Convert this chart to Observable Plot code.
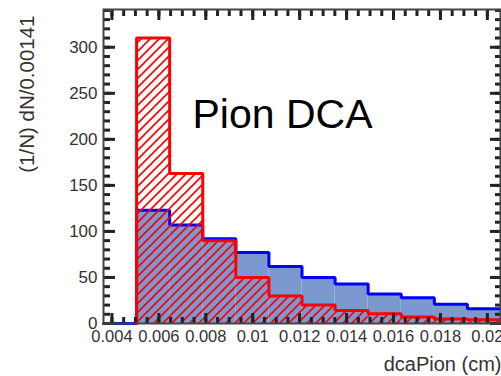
<!DOCTYPE html>
<html>
<head>
<meta charset="utf-8">
<script src="https://cdn.jsdelivr.net/npm/d3@7"></script>
<script src="https://cdn.jsdelivr.net/npm/@observablehq/plot@0.6"></script>
<style>
  html, body { margin: 0; padding: 0; background: #fff; }
  #chart svg { display: block; }
</style>
</head>
<body>
<div id="chart"></div>
<script>
// Histogram binning of dcaPion (cm): 12 bins of width 0.00141
const binEdges = [0.00364, 0.00505, 0.00646, 0.00787, 0.00928, 0.01069, 0.0121,
                  0.01351, 0.01492, 0.01633, 0.01774, 0.01915, 0.02056];

// Normalised counts per bin, (1/N) dN/0.00141
const redCounts  = [0, 310, 163, 90, 50, 30, 20, 14, 10.5, 7, 5, 4];
const blueCounts = [0, 123, 107, 92, 77, 62, 50, 43, 32, 28, 21, 16];

// Axis ticks and labels
const xTicks = [0.004, 0.006, 0.008, 0.01, 0.012, 0.014, 0.016, 0.018, 0.02];
const xTickLabels = ["0.004", "0.006", "0.008", "0.01", "0.012", "0.014", "0.016", "0.018", "0.02"];
const xMinorTicks = d3.range(0.004, 0.0205, 0.0005);
const yTicks = [0, 50, 100, 150, 200, 250, 300];
const yTickLabels = ["0", "50", "100", "150", "200", "250", "300"];
const yMinorTicks = d3.range(0, 341, 10);

const xTitle = "dcaPion (cm)";
const yTitle = "(1/N) dN/0.00141";
const annotation = "Pion DCA";

// Per-bin table for the filled areas
const bins = redCounts.map((r, i) => ({x1: binEdges[i], x2: binEdges[i + 1], red: r, blue: blueCounts[i]}));

// Step outline of a histogram, starting at the first bin that is drawn
function outline(counts, start) {
  const pts = [{x: binEdges[start], y: 0}];
  for (let i = start; i < counts.length; i++) pts.push({x: binEdges[i], y: counts[i]});
  pts.push({x: binEdges[counts.length], y: counts[counts.length - 1]});
  return pts;
}

const xLabel = new Map(xTicks.map((t, i) => [t, xTickLabels[i]]));
const yLabel = new Map(yTicks.map((t, i) => [t, yTickLabels[i]]));
const axisColor = "#333";
const tickColor = "#222";

const xDomain = [binEdges[0], binEdges[binEdges.length - 1]];
const yDomain = [0, 341];

// inward-pointing ticks along one side of the frame (negative tickSize points into the plot)
function sideTicks(values, side, len) {
  return (side === "left" || side === "right" ? Plot.axisY : Plot.axisX)(values, {
    anchor: side, tickSize: -len, fill: "none", stroke: tickColor, strokeWidth: 3
  });
}

const svg = Plot.plot({
  width: 501,
  height: 376,
  marginLeft: 103,
  marginRight: 1,
  marginTop: 9,
  marginBottom: 53,
  style: {fontFamily: "'Liberation Sans', Arial, Helvetica, sans-serif", fontSize: "16px", background: "#fff", color: axisColor},
  x: {type: "linear", domain: xDomain, nice: false},
  y: {domain: yDomain, nice: false},
  marks: [
    // blue filled histogram
    Plot.rectY(bins, {x1: "x1", x2: "x2", y: "blue", fill: "#7b98cf", inset: 0}),
    Plot.line(outline(blueCounts, 0), {x: "x", y: "y", curve: "step-after", stroke: "#0000ff", strokeWidth: 3, strokeLinejoin: "miter"}),
    // red hatched histogram
    Plot.rectY(bins.filter(d => d.red > 0), {x1: "x1", x2: "x2", y: "red", fill: "url(#redHatch)", inset: 0}),
    Plot.line(outline(redCounts, 1), {x: "x", y: "y", curve: "step-after", stroke: "#ff0000", strokeWidth: 3, strokeLinejoin: "miter"}),

    // tick labels
    Plot.axisY(yTicks, {anchor: "left", tickSize: 0, tickPadding: 6, tickFormat: d => yLabel.get(d), fontSize: 17, fill: axisColor, label: null}),
    Plot.axisX(xTicks, {anchor: "bottom", tickSize: 0, tickPadding: 7, tickFormat: d => xLabel.get(d), fontSize: 16.5, fill: axisColor, label: null}),

    // inward ticks on all four sides
    sideTicks(yTicks, "left", 12),
    sideTicks(yMinorTicks, "left", 7),
    sideTicks(yTicks, "right", 11),
    sideTicks(yMinorTicks, "right", 6),
    sideTicks(xTicks, "bottom", 10),
    sideTicks(xMinorTicks, "bottom", 6),
    sideTicks(xTicks, "top", 10),
    sideTicks(xMinorTicks, "top", 6),

    Plot.frame({stroke: "#444", strokeWidth: 2}),

    // axis titles
    Plot.text([xTitle], {frameAnchor: "bottom-right", dx: 1, dy: 47, textAnchor: "end", lineAnchor: "bottom", fontSize: 20, fill: axisColor}),
    Plot.text([yTitle], {frameAnchor: "top-left", dx: -76, dy: 6, rotate: -90, textAnchor: "end", lineAnchor: "middle", fontSize: 20.5, fill: axisColor}),

    // annotation
    Plot.text([annotation], {frameAnchor: "top-left", dx: 89, dy: 118, textAnchor: "start", lineAnchor: "bottom", fontSize: 41, fill: "#000"})
  ]
});

// diagonal hatch used by the red histogram
const defs = d3.select(svg).insert("defs", ":first-child");
const pattern = defs.append("pattern")
  .attr("id", "redHatch")
  .attr("patternUnits", "userSpaceOnUse")
  .attr("width", 9)
  .attr("height", 9);
pattern.append("path")
  .attr("d", "M-1,1 l2,-2 M0,9 l9,-9 M8,10 l2,-2")
  .attr("stroke", "#ff0000")
  .attr("stroke-width", 1.6)
  .attr("fill", "none");

document.getElementById("chart").append(svg);
</script>
</body>
</html>
